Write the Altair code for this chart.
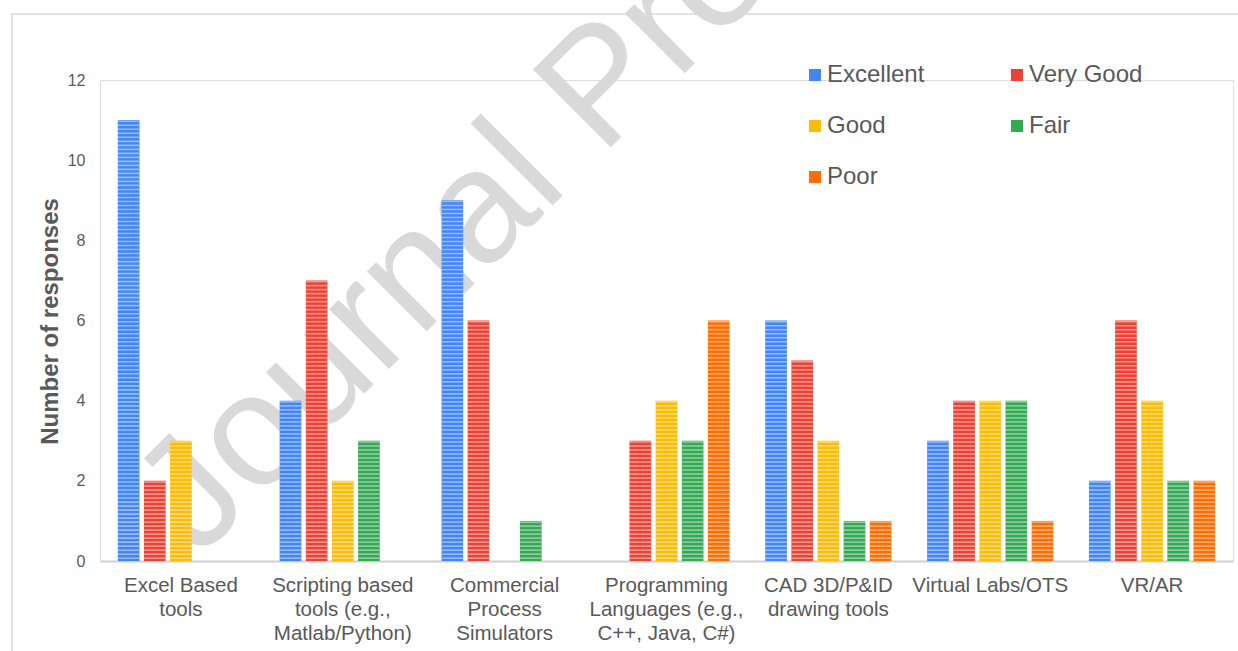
import altair as alt
import pandas as pd

categories = [
    "Excel Based\ntools",
    "Scripting based\ntools (e.g.,\nMatlab/Python)",
    "Commercial\nProcess\nSimulators",
    "Programming\nLanguages (e.g.,\nC++, Java, C#)",
    "CAD 3D/P&ID\ndrawing tools",
    "Virtual Labs/OTS",
    "VR/AR",
]
series = ["Excellent", "Very Good", "Good", "Fair", "Poor"]
excellent = [11, 4, 9, 0, 6, 3, 2]
very_good = [2, 7, 6, 3, 5, 4, 6]
good = [3, 2, 0, 4, 3, 4, 4]
fair = [0, 3, 1, 3, 1, 4, 2]
poor = [0, 0, 0, 6, 1, 1, 2]
colors = ["#4285F4", "#EA4335", "#FBBC04", "#34A853", "#FF6D01"]
y_ticks = [0, 2, 4, 6, 8, 10, 12]
y_title = "Number of responses"
watermark = "Journal Pre-proof"

values_by_series = [excellent, very_good, good, fair, poor]
rows = []
for s, vals in zip(series, values_by_series):
    for c, v in zip(categories, vals):
        rows.append({"category": c, "series": s, "value": v})
df = pd.DataFrame(rows)

FONT = "Liberation Sans"
GRAY = "#595959"

x_enc = alt.X(
    "category:N",
    sort=categories,
    scale=alt.Scale(paddingInner=0.22, paddingOuter=0.11),
    axis=alt.Axis(
        title=None,
        labelExpr="split(datum.value, '\\n')",
        labelAngle=0,
        labelFontSize=20.5,
        labelColor=GRAY,
        labelLineHeight=24,
        labelPadding=14,
        labelLimit=400,
        ticks=False,
        tickSize=0,
        domainColor="#cfcfcf",
        domainWidth=2,
        grid=False,
    ),
)
xoff_enc = alt.XOffset(
    "series:N", sort=series, scale=alt.Scale(paddingInner=0.17, paddingOuter=0)
)
y_scale = alt.Scale(domain=[0, 12], nice=False)

bars = alt.Chart(df).mark_bar().encode(
    x=x_enc,
    xOffset=xoff_enc,
    y=alt.Y(
        "value:Q",
        scale=y_scale,
        axis=alt.Axis(
            values=y_ticks,
            grid=False,
            domain=False,
            ticks=False,
            tickSize=0,
            labelFontSize=16,
            labelColor=GRAY,
            labelPadding=15,
            title=y_title,
            titleFontSize=24,
            titleFontWeight="bold",
            titleColor=GRAY,
            titleAngle=270,
            titleX=-43,
            titleY=241,
            titleBaseline="alphabetic",
            titleAlign="center",
        ),
    ),
    color=alt.Color(
        "series:N",
        sort=series,
        scale=alt.Scale(domain=series, range=colors),
        legend=alt.Legend(
            title=None,
            orient="none",
            legendX=703,
            legendY=-17,
            direction="horizontal",
            columns=2,
            symbolType="square",
            symbolSize=144,
            symbolStrokeWidth=0,
            labelFontSize=24,
            labelColor=GRAY,
            labelOffset=0,
            columnPadding=80,
            rowPadding=27,
        ),
    ),
)

stripes = (
    alt.Chart(df)
    .transform_calculate(stripe="sequence(0.05, datum.value, 0.1)")
    .transform_flatten(["stripe"])
    .transform_calculate(stripe_top="datum.stripe + 0.04")
    .mark_bar(color="white", opacity=0.45)
    .encode(
        x=alt.X("category:N", sort=categories),
        xOffset=alt.XOffset("series:N", sort=series),
        y=alt.Y("stripe:Q", scale=y_scale),
        y2="stripe_top:Q",
    )
)

wm_df = pd.DataFrame({"text": [watermark]})
wm = alt.Chart(wm_df).mark_text(
    angle=315,
    fontSize=160,
    color="#d9d9d9",
    font=FONT,
    align="center",
    baseline="alphabetic",
).encode(x=alt.value(536), y=alt.value(42), text="text:N")

border = alt.Chart(wm_df).mark_rect(
    fill="transparent", stroke="#d9d9d9", strokeWidth=1.5
).encode(
    x=alt.value(-88), x2=alt.value(1300), y=alt.value(-66), y2=alt.value(700)
)

chart = (
    alt.layer(border, wm, bars, stripes)
    .properties(
        width=1133,
        height=481,
        autosize=alt.AutoSizeParams(type="none"),
        padding={"left": 100, "top": 80, "right": 5, "bottom": 90},
        background="white",
    )
    .configure_view(stroke=None)
    .configure(font=FONT)
)

chart.save("out.html", embed_options={"renderer": "svg", "actions": False})
